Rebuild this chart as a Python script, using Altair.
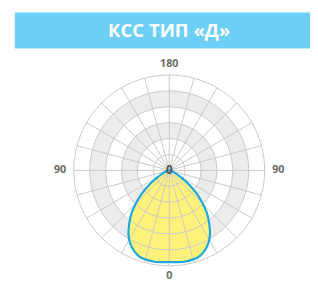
import math
import altair as alt
import pandas as pd

# ---- data ----
TITLE = "КСС ТИП «Д»"
curve_angles = [0, 10, 20, 30, 40, 45, 50, 55, 60, 70, 80, 90]      # degrees from nadir
curve_values = [96, 97, 95, 84, 63, 50, 37, 24, 14, 4, 1, 0]         # % of outer ring
ring_values = [16.7, 33.3, 50, 66.7, 83.3, 100]
band_outer = [83.3, 50]
band_inner = [66.7, 33.3]
spoke_angles = [0, 15, 30, 45, 60, 75, 90, 105, 120, 135, 150, 165,
                180, 195, 210, 225, 240, 255, 270, 285, 300, 315, 330, 345]
label_angles = [0, 90, 180, 270]
label_texts = ["0", "90", "180", "90"]

W, H = 310, 277
CX, CY = 165.5, 163
R = 98
K = R / 100.0

xs = alt.Scale(domain=[-CX, W - CX], nice=False, zero=False)
ys = alt.Scale(domain=[CY - H, CY], nice=False, zero=False)

GRID = "#c9c9c9"
BAND = "#ececec"
FONT = "Open Sans"


def X(f):
    return alt.X(f, type="quantitative", scale=xs, axis=None)


def Y(f):
    return alt.Y(f, type="quantitative", scale=ys, axis=None)


bands = alt.Chart(pd.DataFrame({"ro": band_outer, "ri": band_inner})).transform_calculate(
    c0="0", po=f"datum.ro*{K}", pi=f"datum.ri*{K}"
).mark_arc(fill=BAND, strokeWidth=0).encode(
    x=X("c0"), y=Y("c0"),
    radius=alt.Radius("po:Q", scale=None, stack=None), radius2=alt.Radius2("pi:Q"),
    theta=alt.value(0), theta2=alt.value(2 * math.pi),
)

right = pd.DataFrame({"a": curve_angles, "v": curve_values})
area = alt.Chart(right).transform_calculate(
    x=f"datum.v*{K}*sin(datum.a*PI/180)",
    nx=f"-datum.v*{K}*sin(datum.a*PI/180)",
    y=f"-datum.v*{K}*cos(datum.a*PI/180)",
).mark_area(orient="horizontal", color="#fff27a", interpolate="catmull-rom").encode(
    y=Y("y"), x=X("nx"), x2="x:Q",
)

circles = alt.Chart(pd.DataFrame({"r": ring_values})).transform_calculate(
    c0="0", pr=f"datum.r*{K}"
).mark_arc(fillOpacity=0, stroke=GRID, strokeWidth=1).encode(
    x=X("c0"), y=Y("c0"),
    radius=alt.Radius("pr:Q", scale=None, stack=None),
    theta=alt.value(0), theta2=alt.value(2 * math.pi),
)

spokes = alt.Chart(pd.DataFrame({"a": spoke_angles})).transform_calculate(
    c0="0",
    ex=f"100*{K}*sin(datum.a*PI/180)",
    ey=f"-100*{K}*cos(datum.a*PI/180)",
).mark_rule(color=GRID, strokeWidth=1).encode(
    x=X("c0"), y=Y("c0"), x2="ex:Q", y2="ey:Q",
)

full = pd.DataFrame({
    "a": [-a for a in reversed(curve_angles)] + curve_angles[1:],
    "v": list(reversed(curve_values)) + curve_values[1:],
})
line = alt.Chart(full).transform_calculate(
    x=f"datum.v*{K}*sin(datum.a*PI/180)",
    y=f"-datum.v*{K}*cos(datum.a*PI/180)",
).mark_line(color="#1aa6e0", strokeWidth=2.2, interpolate="catmull-rom").encode(
    x=X("x"), y=Y("y"), order="a:Q",
)

labels = alt.Chart(pd.DataFrame({"a": label_angles, "t": label_texts})).transform_calculate(
    lx="112*sin(datum.a*PI/180)",
    ly="-109*cos(datum.a*PI/180)",
).mark_text(font=FONT, fontSize=11, fontWeight="bold", color="#6a6a6a",
            baseline="middle", align="center").encode(
    x=X("lx"), y=Y("ly"), text="t:N",
)

center = alt.Chart(pd.DataFrame({"t": ["0"]})).transform_calculate(
    c0="0"
).mark_text(
    font=FONT, fontSize=12, fontWeight="bold", color="#555555",
    baseline="middle", align="center"
).encode(x=X("c0"), y=Y("c0"), text="t:N")

banner = alt.Chart(pd.DataFrame({"t": [TITLE]})).mark_rect(color="#6dcff6").encode(
    x=alt.value(7), x2=alt.value(W), y=alt.value(1), y2=alt.value(38)
)
title = alt.Chart(pd.DataFrame({"t": [TITLE]})).mark_text(
    font=FONT, fontSize=19, fontWeight="bold", color="white",
    baseline="middle", align="center"
).encode(x=alt.value(CX), y=alt.value(20), text="t:N")

chart = alt.layer(bands, area, circles, spokes, line, labels, center, banner, title).properties(
    width=W, height=H, autosize="none", padding=0
).configure_view(stroke=None)

chart.save("out.html", embed_options={"renderer": "svg", "actions": False})
